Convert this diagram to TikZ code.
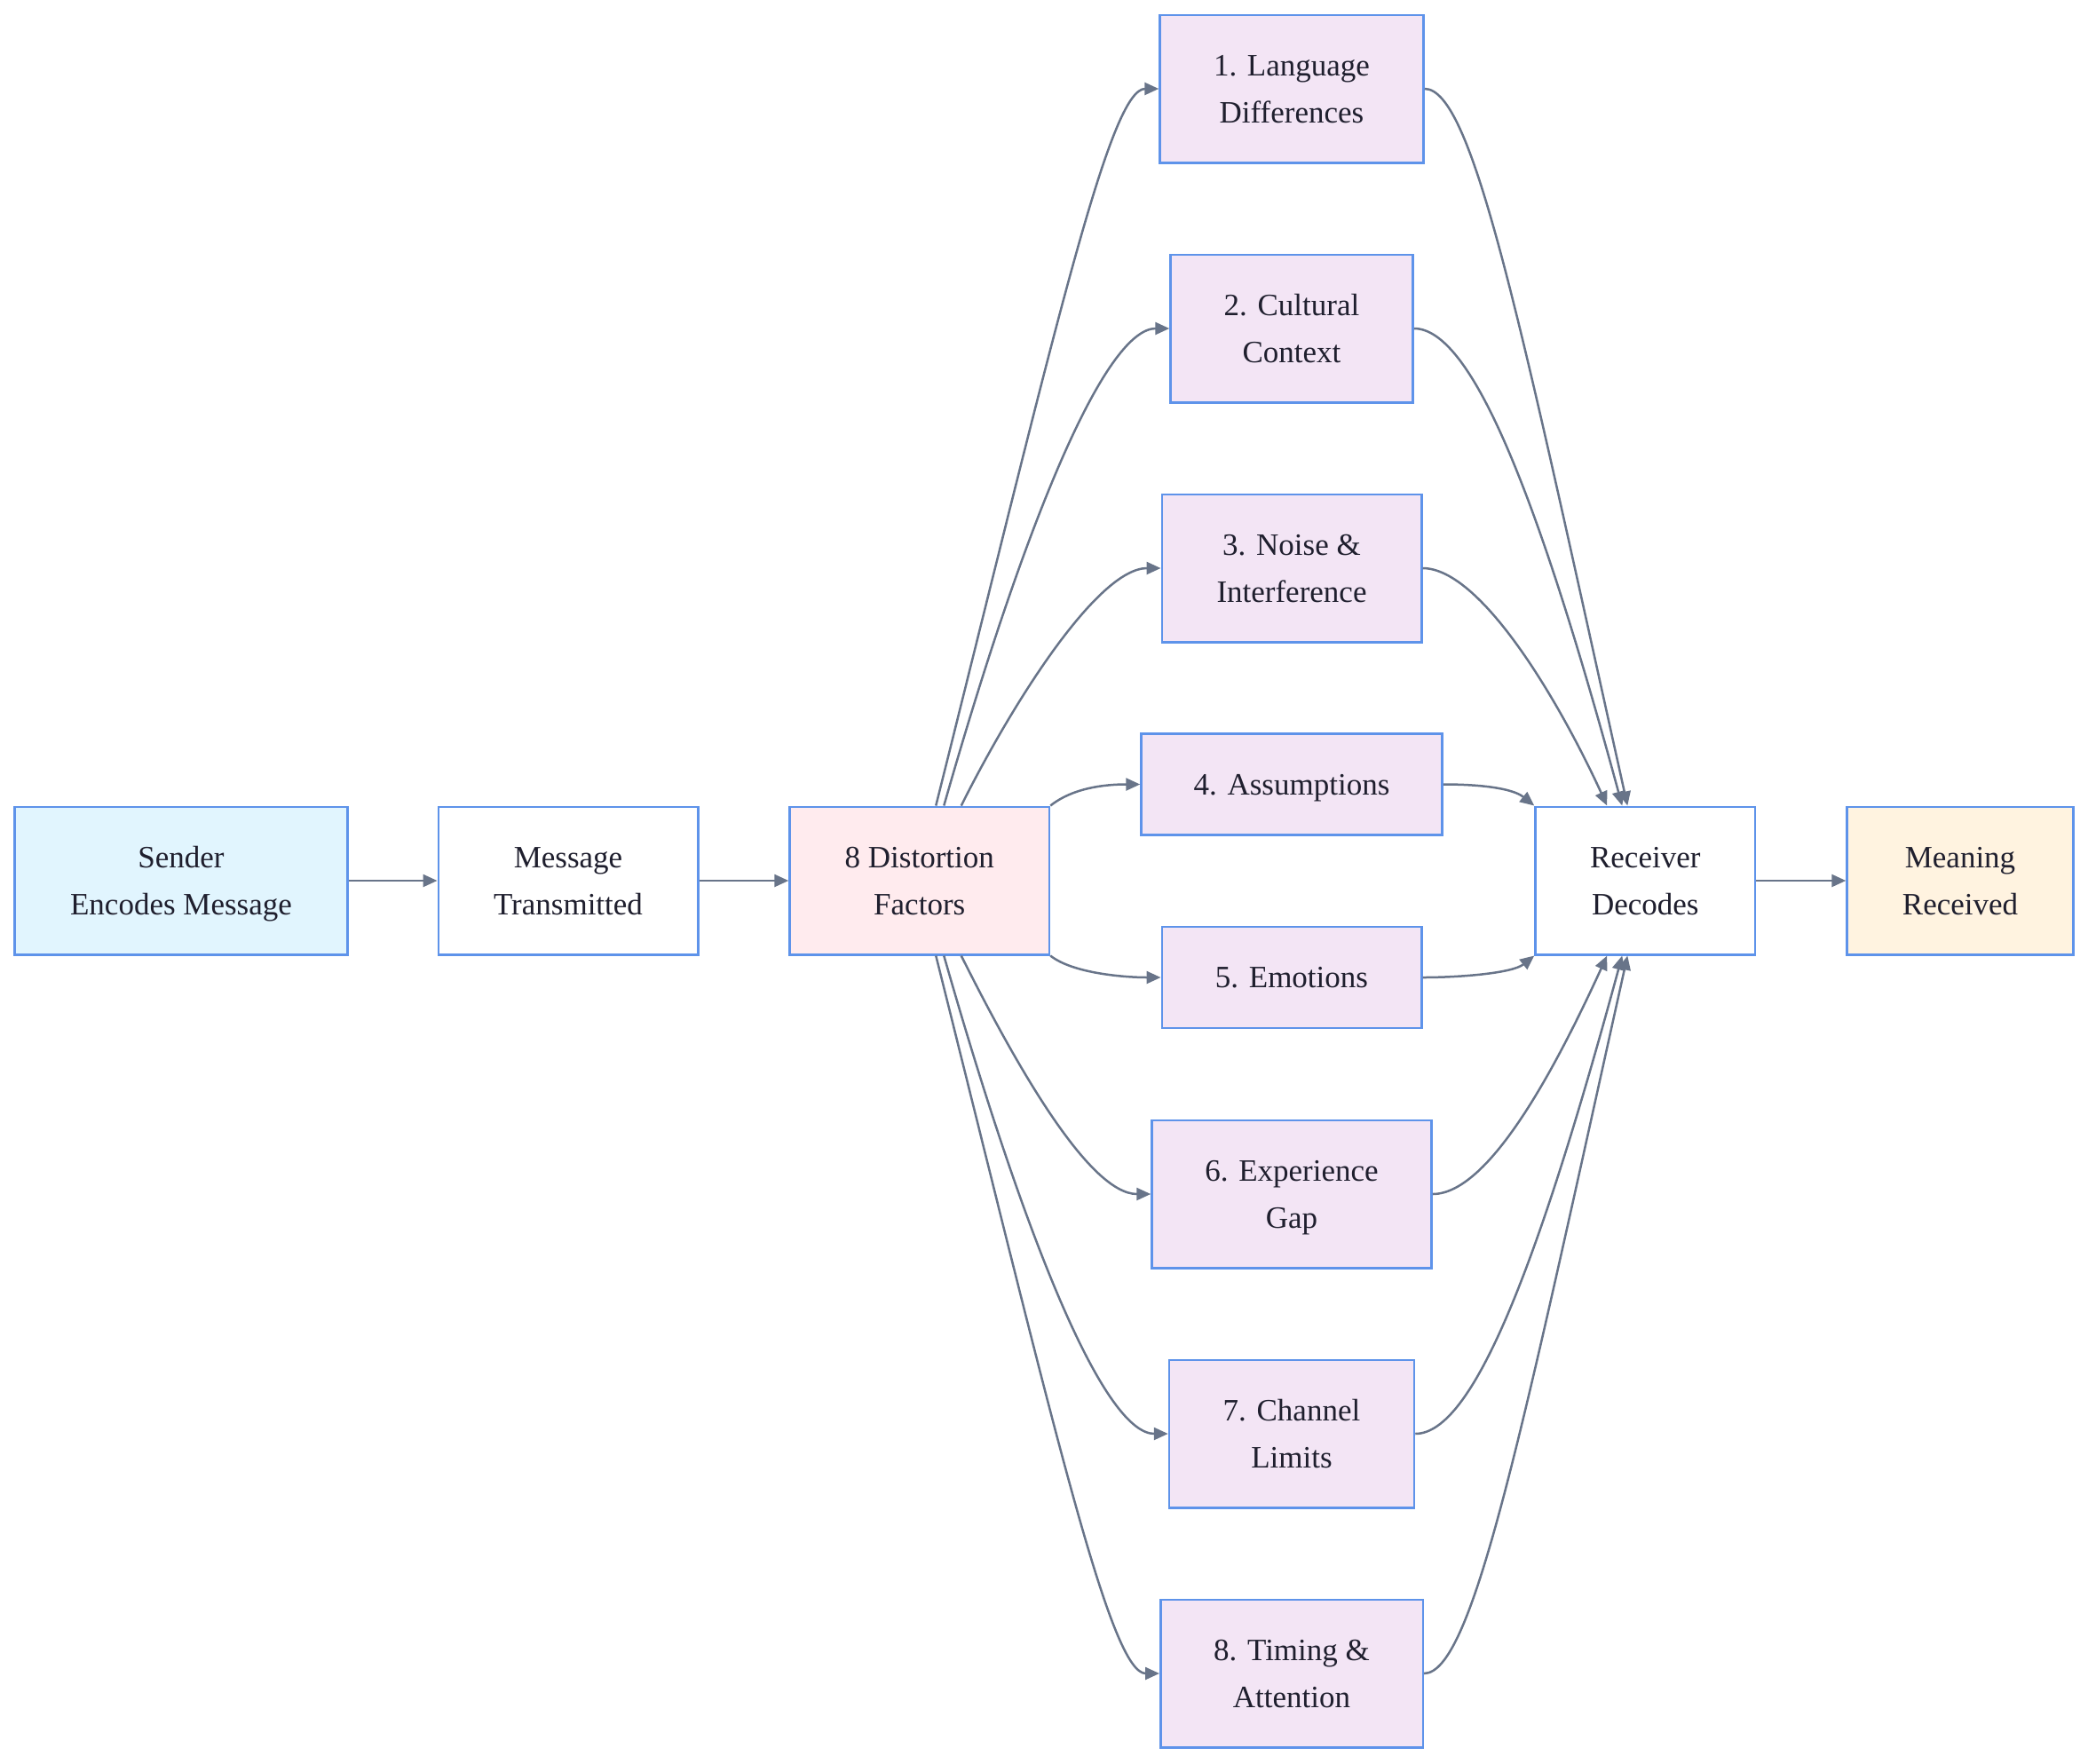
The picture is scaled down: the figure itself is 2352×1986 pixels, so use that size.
\documentclass[tikz,border=0pt]{standalone}
\usepackage{fontspec}
\setmainfont{Liberation Serif}
\usetikzlibrary{arrows.meta}
\definecolor{edgec}{HTML}{687489}
\definecolor{boxb}{HTML}{5E93EA}
\definecolor{txt}{HTML}{1F1F2E}
\definecolor{sendc}{HTML}{E1F5FE}
\definecolor{distc}{HTML}{FFEBEE}
\definecolor{factc}{HTML}{F3E5F5}
\definecolor{meanc}{HTML}{FFF3E0}
\newcommand{\twol}[2]{\smash{\raisebox{15pt}{\begin{tabular}[t]{@{}c@{}}#1\\#2\end{tabular}}}}
\newcommand{\onel}[1]{\smash{\raisebox{-11.5pt}{#1}}}
\begin{document}
\begin{tikzpicture}[x=1pt,y=-1pt,
  box/.style={draw=boxb, line width=2.5pt, inner sep=0pt, text=txt,
    font=\fontsize{35}{53}\selectfont, minimum height=166.5pt},
  arr/.style={draw=edgec, line width=2.5pt, -{Triangle[length=16pt,width=14pt]}}]
\useasboundingbox (0,0) rectangle (2352,1986);

\node[box, fill=sendc, minimum width=375pt] (s) at (204,992) {\twol{Sender}{Encodes Message}};
\node[box, fill=white, minimum width=292.5pt] (m) at (640,992) {\twol{Message}{Transmitted}};
\node[box, fill=distc, minimum width=292.5pt] (df) at (1035.75,992) {\twol{8 Distortion}{Factors}};
\node[box, fill=white, minimum width=247.5pt] (r) at (1853.25,992) {\twol{Receiver}{Decodes}};
\node[box, fill=meanc, minimum width=255pt] (mr) at (2208,992) {\twol{Meaning}{Received}};

\node[box, fill=factc, minimum width=297pt] (f1) at (1455,100) {\twol{1. Language}{Differences}};
\node[box, fill=factc, minimum width=273pt] (f2) at (1455,370) {\twol{2. Cultural}{Context}};
\node[box, fill=factc, minimum width=292.5pt] (f3) at (1455,640) {\twol{3. Noise \&}{Interference}};
\node[box, fill=factc, minimum width=339pt, minimum height=114pt] (f4) at (1455,883.5) {\onel{4. Assumptions}};
\node[box, fill=factc, minimum width=292.5pt, minimum height=114pt] (f5) at (1455,1101) {\onel{5. Emotions}};
\node[box, fill=factc, minimum width=315pt] (f6) at (1455,1345) {\twol{6. Experience}{Gap}};
\node[box, fill=factc, minimum width=276pt] (f7) at (1455,1615) {\twol{7. Channel}{Limits}};
\node[box, fill=factc, minimum width=295.5pt] (f8) at (1455,1885) {\twol{8. Timing \&}{Attention}};

\draw[arr] (s) -- (m);
\draw[arr] (m) -- (df);
\draw[arr] (r) -- (mr);

% distortion -> factors
\draw[arr] ([xshift=18.5pt]df.north) .. controls +(135,-540) and +(-55,0) .. (f1.west);
\draw[arr] ([xshift=27.5pt]df.north) .. controls +(100,-350) and +(-68,0) .. (f2.west);
\draw[arr] ([xshift=47pt]df.north) .. controls +(60,-120) and +(-70,0) .. (f3.west);
\draw[arr] (df.north east) .. controls +(25,-20) and +(-40,0) .. (f4.west);
\draw[arr] (df.south east) .. controls +(25,20) and +(-40,0) .. (f5.west);
\draw[arr] ([xshift=47pt]df.south) .. controls +(60,120) and +(-70,0) .. (f6.west);
\draw[arr] ([xshift=27.5pt]df.south) .. controls +(100,350) and +(-68,0) .. (f7.west);
\draw[arr] ([xshift=18.5pt]df.south) .. controls +(135,540) and +(-55,0) .. (f8.west);

% factors -> receiver
\draw[arr] (f1.east) .. controls +(55,0) and +(-120,-540) .. ([xshift=-20pt]r.north);
\draw[arr] (f2.east) .. controls +(65,0) and +(-95,-350) .. ([xshift=-26pt]r.north);
\draw[arr] (f3.east) .. controls +(65,0) and +(-55,-120) .. ([xshift=-43pt]r.north);
\draw[arr] (f4.east) .. controls +(40,0) and +(-25,-20) .. (r.north west);
\draw[arr] (f5.east) .. controls +(40,0) and +(-25,20) .. (r.south west);
\draw[arr] (f6.east) .. controls +(65,0) and +(-55,120) .. ([xshift=-43pt]r.south);
\draw[arr] (f7.east) .. controls +(65,0) and +(-95,350) .. ([xshift=-26pt]r.south);
\draw[arr] (f8.east) .. controls +(55,0) and +(-120,540) .. ([xshift=-20pt]r.south);
\end{tikzpicture}
\end{document}
